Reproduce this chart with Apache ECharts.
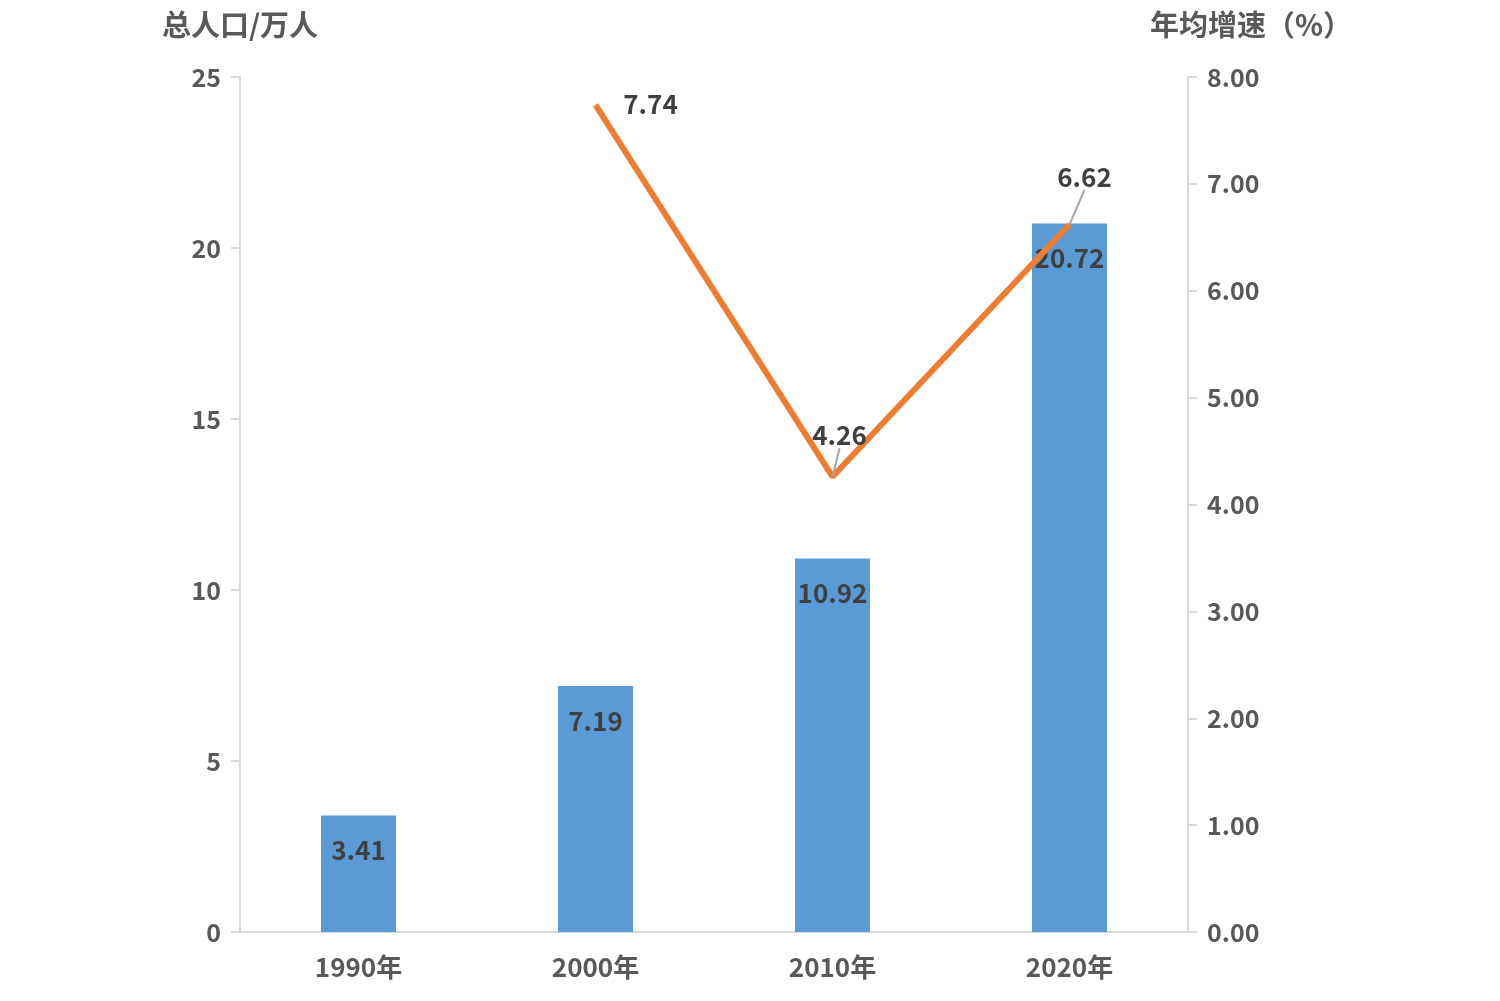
<!DOCTYPE html>
<html><head><meta charset="utf-8">
<script src="https://cdn.jsdelivr.net/npm/echarts@6/dist/echarts.min.js"></script>
<style>html,body{margin:0;padding:0;background:#fff}#c{width:1500px;height:1001px}</style>
</head><body><div id="c"></div>
<script>
const categories = ['1990年', '2000年', '2010年', '2020年'];
const population = [3.41, 7.19, 10.92, 20.72];
const growth = ['-', 7.74, 4.26, 6.62];
const leftTicks = {min: 0, max: 25, interval: 5};
const rightTicks = {min: 0, max: 8, interval: 1};

const FONT = '"Noto Sans CJK SC", "Noto Sans", sans-serif';
const TXT = '#595959';
const growthData = growth.map((v, i) => i === 1 ? {value: v, labelLine: {show: false}} : v);
const chart = echarts.init(document.getElementById('c'));
chart.setOption({
  animation: false,
  textStyle: {fontFamily: FONT},
  grid: {left: 240, right: 312, top: 77, bottom: 69, containLabel: false},
  xAxis: {
    type: 'category', data: categories,
    axisLine: {lineStyle: {color: '#d9d9d9', width: 2}},
    axisTick: {show: false},
    axisLabel: {color: TXT, fontSize: 26, fontWeight: 'bold', margin: 22, fontFamily: FONT}
  },
  yAxis: [{
    type: 'value', min: leftTicks.min, max: leftTicks.max, interval: leftTicks.interval,
    name: '总人口/万人', nameLocation: 'end', nameGap: 38,
    nameTextStyle: {color: TXT, fontSize: 29, fontWeight: 'bold', align: 'center', fontFamily: FONT},
    axisLine: {show: true, lineStyle: {color: '#d9d9d9', width: 2}},
    axisTick: {show: true, length: 9, lineStyle: {color: '#d9d9d9', width: 2}},
    splitLine: {show: false},
    axisLabel: {color: TXT, fontSize: 25, fontWeight: 'bold', margin: 19, fontFamily: FONT}
  }, {
    type: 'value', min: rightTicks.min, max: rightTicks.max, interval: rightTicks.interval,
    name: '年均增速（%）', nameLocation: 'end', nameGap: 38,
    nameTextStyle: {color: TXT, fontSize: 29, fontWeight: 'bold', align: 'center', padding: [0, 0, 0, 126], fontFamily: FONT},
    axisLine: {show: true, lineStyle: {color: '#d9d9d9', width: 2}},
    axisTick: {show: true, length: 9, lineStyle: {color: '#d9d9d9', width: 2}},
    splitLine: {show: false},
    axisLabel: {color: TXT, fontSize: 25, fontWeight: 'bold', margin: 19, fontFamily: FONT,
      formatter: v => v.toFixed(2)}
  }],
  series: [{
    type: 'bar', data: population, barWidth: 75, yAxisIndex: 0,
    itemStyle: {color: '#5b9bd5'},
    label: {show: true, position: 'insideTop', distance: 22, color: '#404040', fontSize: 26, fontWeight: 'bold', fontFamily: FONT,
      formatter: p => p.value.toFixed(2)},
    z: 2
  }, {
    type: 'line', data: growthData, yAxisIndex: 1, showSymbol: true, symbol: 'circle', symbolSize: 1,
    itemStyle: {color: 'rgba(0,0,0,0)'},
    lineStyle: {color: '#ed7d31', width: 6},
    label: {show: true, position: 'top', distance: 0, color: '#404040', fontSize: 26, fontWeight: 'bold', fontFamily: FONT,
      formatter: p => Number(p.value).toFixed(2)},
    labelLine: {show: true, lineStyle: {color: '#a6a6a6', width: 2}},
    labelLayout: function (params) {
      const i = params.dataIndex;
      if (i === 1) return {dx: 55, dy: 13};
      if (i === 2) return {dx: 7, dy: -28};
      if (i === 3) return {dx: 15, dy: -34};
      return {};
    },
    z: 3
  }]
});
</script></body></html>
